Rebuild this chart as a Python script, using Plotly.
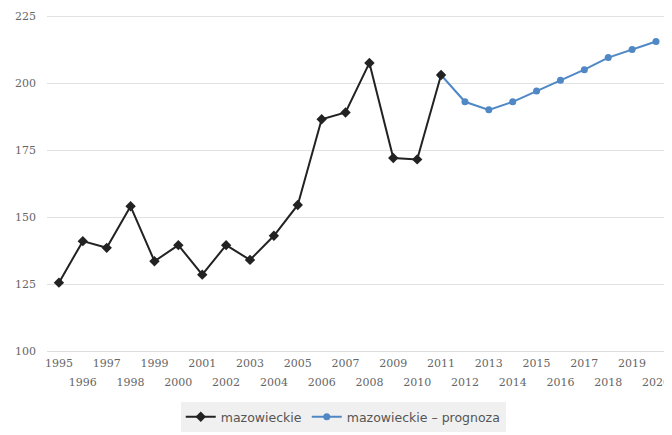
import plotly.graph_objects as go

years_hist = list(range(1995, 2012))
values_hist = [125.5, 141, 138.5, 154, 133.5, 139.5, 128.5, 139.5, 134, 143, 154.5,
               186.5, 189, 207.5, 172, 171.5, 203]

years_fc = list(range(2011, 2021))
values_fc = [203, 193, 190, 193, 197, 201, 205, 209.5, 212.5, 215.5]

odd_years = list(range(1995, 2021, 2))
even_years = list(range(1996, 2021, 2))
y_ticks = [100, 125, 150, 175, 200, 225]

name_hist = "mazowieckie"
name_fc = "mazowieckie – prognoza"

x_range = [1994.5, 2020.67]
tick_font = dict(family="DejaVu Serif", size=11, color="#666666")

fig = go.Figure()
fig.add_trace(go.Scatter(
    x=years_fc, y=values_fc, name=name_fc, mode="lines+markers",
    xaxis="x", yaxis="y",
    line=dict(color="#4f88c4", width=2),
    marker=dict(symbol="circle", size=7, color="#4f88c4"),
))
fig.add_trace(go.Scatter(
    x=years_hist, y=values_hist, name=name_hist, mode="lines+markers",
    xaxis="x2", yaxis="y",
    line=dict(color="#222222", width=2),
    marker=dict(symbol="diamond", size=8, color="#222222"),
))

# the page body adds an 8px margin, so the figure is 8px smaller than the window
fig.update_layout(
    width=664, height=427,
    margin=dict(l=39, r=0, t=0, b=84),
    paper_bgcolor="white", plot_bgcolor="white",
    font=dict(family="DejaVu Serif", size=11, color="#666666"),
    showlegend=True,
    legend=dict(
        orientation="h", x=0.474, xanchor="center", y=-0.149, yanchor="top",
        bgcolor="#f0f0f0", borderwidth=0,
        font=dict(family="DejaVu Sans", size=12.5, color="#555555"),
        traceorder="reversed",
    ),
    xaxis=dict(
        range=x_range, tickmode="array", tickvals=even_years,
        ticktext=[str(y) for y in even_years],
        showgrid=False, zeroline=False,
        showline=True, linecolor="#dddddd", linewidth=1,
        ticks="", tickangle=0, fixedrange=True, automargin=False,
        tickfont=tick_font, ticklabelstandoff=21,
    ),
    xaxis2=dict(
        range=x_range, tickmode="array", tickvals=odd_years,
        ticktext=[str(y) for y in odd_years],
        overlaying="x", anchor="y", side="bottom",
        showgrid=False, zeroline=False, showline=False,
        ticks="", tickangle=0, fixedrange=True, automargin=False,
        tickfont=tick_font, ticklabelstandoff=4,
    ),
    yaxis=dict(
        range=[100, 228], tickmode="array", tickvals=y_ticks,
        showgrid=True, gridcolor="#e2e2e2", gridwidth=1, zeroline=False,
        ticks="", ticklabelstandoff=10, automargin=False,
        tickfont=tick_font,
    ),
)

fig.write_html("out.html")
